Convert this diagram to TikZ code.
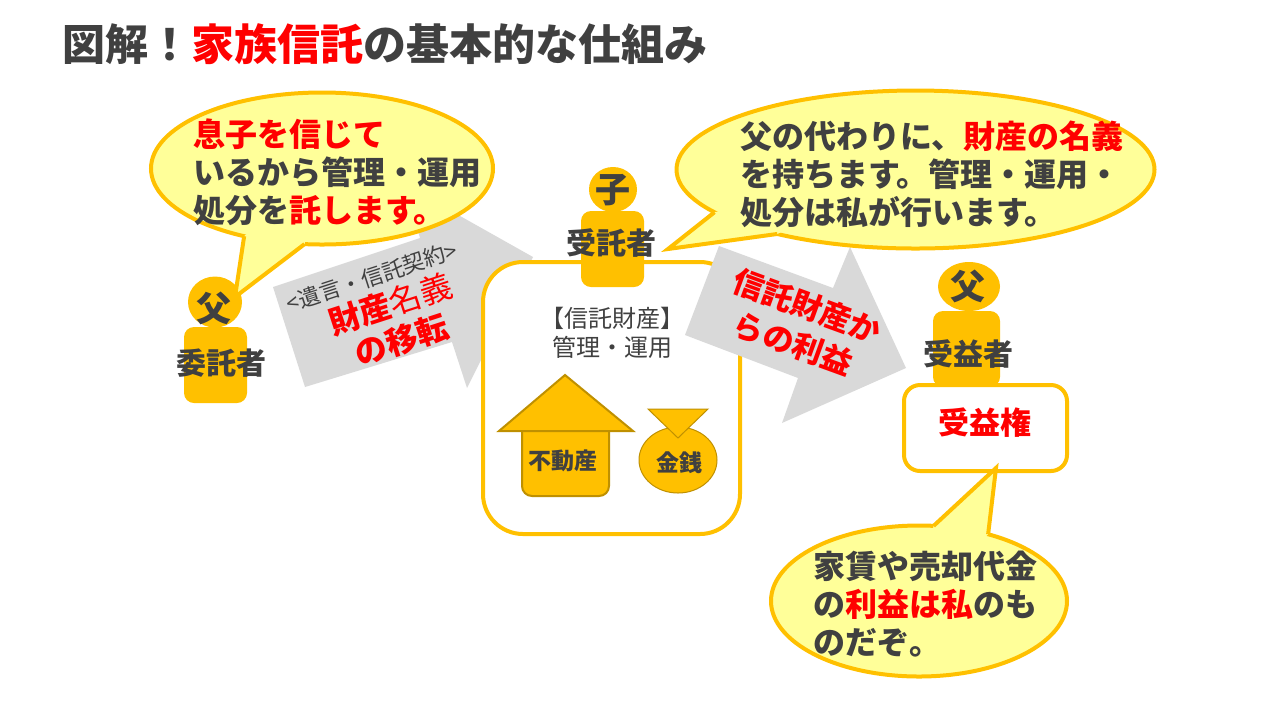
\documentclass[tikz,border=0pt]{standalone}
\usepackage{fontspec}
\setmainfont{Noto Sans CJK JP}
\usetikzlibrary{shapes.geometric}

\definecolor{ink}{HTML}{404040}
\definecolor{gold}{HTML}{FFC000}
\definecolor{golddark}{HTML}{BF9000}
\definecolor{balloon}{HTML}{FFFF99}
\definecolor{arrowgray}{HTML}{D9D9D9}

\newcommand{\hl}[1]{\textcolor{red}{#1}}

\tikzset{
	txt/.style={inner sep=0pt,outer sep=0pt,text=ink,align=left},
	bubble/.style={ellipse,draw=gold,fill=balloon,line width=2pt,inner sep=0pt,outer sep=0pt},
	bubbletail/.style={draw=gold,line width=2pt,line join=miter},
	bubbletxt/.style={txt,anchor=west,font=\bfseries\fontsize{16}{19}\selectfont},
	head/.style={ellipse,fill=gold,inner sep=0pt,outer sep=0pt},
	body/.style={rectangle,fill=gold,rounded corners=5pt,inner sep=0pt,outer sep=0pt,minimum width=31.5pt,minimum height=38pt},
	headtxt/.style={txt,font=\bfseries\fontsize{17.5}{20}\selectfont},
	roletxt/.style={txt,font=\bfseries\fontsize{15}{18}\selectfont},
	frame/.style={rectangle,draw=gold,fill=white,line width=2pt,inner sep=0pt,outer sep=0pt},
	bigarrow/.style={fill=arrowgray},
	asset/.style={fill=gold,draw=golddark,line width=1pt},
	assettxt/.style={txt,font=\bfseries\fontsize{11.5}{14}\selectfont},
}

\begin{document}
\begin{tikzpicture}[x=0.5pt,y=-0.5pt]
\useasboundingbox (0,0) rectangle (1280,720);

\node[txt,anchor=west,font=\bfseries\fontsize{21.5}{26}\selectfont] (title) at (62,44) {図解！\hl{家族信託}の基本的な仕組み};

%gray arrows and the big frame
\fill[bigarrow] (273,287) -- (305,387) -- (452,342) -- (467,388) -- (533,257) -- (405,185) -- (420,238) -- cycle;
\node[frame,rounded corners=20pt,minimum width=128.5pt,minimum height=136pt] (trust) at (611.5,398) {};
\fill[bigarrow] (719,246) -- (685,335) -- (798,378) -- (782,423) -- (906,368) -- (850,247) -- (833,288) -- cycle;

%persons
\node[head,minimum width=27pt,minimum height=25.5pt] (head1) at (215,302) {};
\node[body] (body1) at (215.5,365) {};
\node[head,minimum width=24pt,minimum height=22.5pt] (head2) at (613,189.5) {};
\node[body] (body2) at (612.5,249) {};
\node[head,minimum width=31pt,minimum height=24.5pt] (head3) at (969,286.5) {};
\node[body,minimum width=33.5pt] (body3) at (966.5,349) {};
\node[frame,rounded corners=8pt,minimum width=81.5pt,minimum height=43pt] (right) at (985.5,428) {};

\node[headtxt] (fa1) at (214,308) {父};
\node[headtxt] (son) at (613,190) {子};
\node[headtxt] (fa2) at (968,286) {父};
\node[roletxt] (settlor) at (221,363) {委託者};
\node[roletxt] (trustee) at (611,243) {受託者};
\node[roletxt] (benef) at (968,354) {受益者};
\node[txt,text=red,font=\bfseries\fontsize{15.5}{18}\selectfont] (righttxt) at (985,423) {受益権};

%speech bubbles
\node[bubble,minimum width=171pt,minimum height=76pt] (say1) at (322,168.5) {};
\coordinate (tip1) at (235,297);
\fill[balloon] (say1.center) -- (say1.221) -- (tip1) -- (say1.257) -- cycle;
\draw[bubbletail] (say1.221) -- (tip1) -- (say1.257);

\node[bubble,minimum width=239pt,minimum height=79pt] (say2) at (915.5,169.5) {};
\coordinate (tip2) at (668,249);
\fill[balloon] (say2.center) -- (say2.192.6) -- (tip2) -- (say2.205.7) -- cycle;
\draw[bubbletail] (say2.192.6) -- (tip2) -- (say2.205.7);

\node[bubble,minimum width=148pt,minimum height=75.5pt] (say3) at (919,601) {};
\coordinate (tip3) at (996,468);
\fill[balloon] (say3.center) -- (say3.79.5) -- (tip3) -- (say3.44.8) -- cycle;
\draw[bubbletail] (say3.79.5) -- (tip3) -- (say3.44.8);

\node[bubbletxt] (saytxt1) at (193,172) {\hl{息子を信じて}\\いるから管理・運用\\処分を\hl{託します。}};
\node[bubbletxt] (saytxt2) at (740,174) {父の代わりに、\hl{財産の名義}\\を持ちます。管理・運用・\\処分は私が行います。};
\node[bubbletxt] (saytxt3) at (813,604) {家賃や売却代金\\の\hl{利益は私}のも\\のだぞ。};

%text on the arrows
\node[txt,rotate=18,font=\fontsize{11}{13}\selectfont,align=center] (law) at (372,277) {<遺言・信託契約>};
\node[txt,rotate=18,text=red,align=center,font=\fontsize{16}{19}\selectfont] (move) at (396,322) {\textbf{財産}名義\\\textbf{の移転}};
\node[txt,rotate=-20,text=red,align=center,font=\bfseries\fontsize{15.5}{20}\selectfont] (gain) at (800,325) {信託財産か\\らの利益};

%inside the frame
\node[txt,align=center,font=\fontsize{12}{14.5}\selectfont] (trusttxt) at (612,332.5) {【信託財産】\\管理・運用};
\draw[asset,rounded corners=5pt] (522,425) -- (522,496) -- (609,496) -- (609,425);
\draw[asset] (565,375) -- (633,431) -- (499,431) -- cycle;
\node[assettxt] (land) at (563,461) {不動産};
\node[ellipse,fill=gold,draw=golddark,line width=0.5pt,inner sep=0pt,outer sep=0pt,minimum width=39pt,minimum height=33pt] (bag) at (678,460) {};
\draw[fill=gold,draw=golddark,line width=0.5pt] (648,409) -- (708,409) -- (678,438) -- cycle;
\node[assettxt] (money) at (679,463) {金銭};

\end{tikzpicture}
\end{document}
